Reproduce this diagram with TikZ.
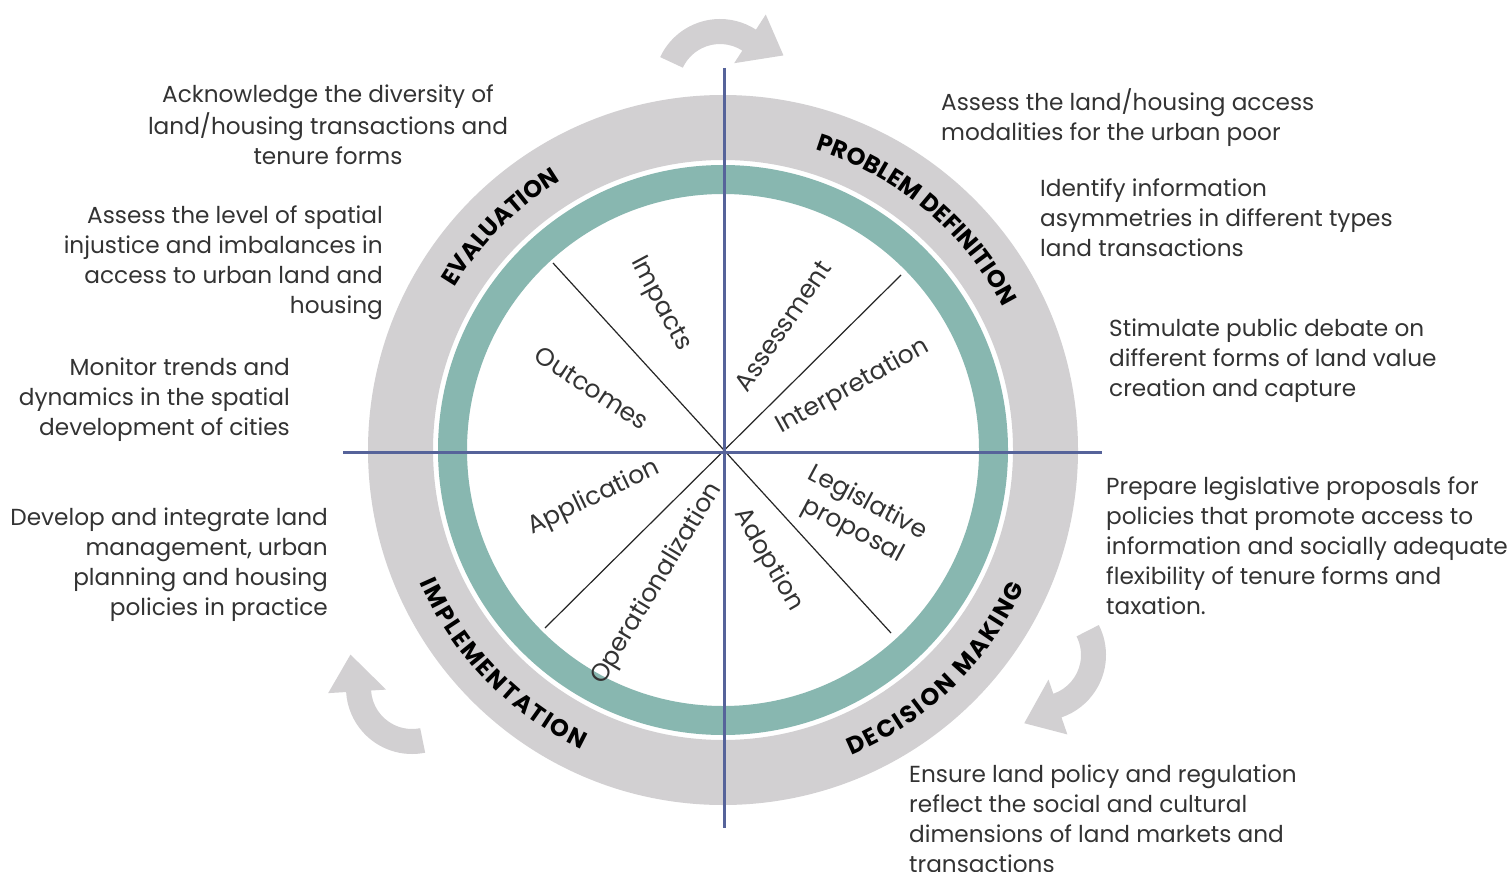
\documentclass[tikz,border=0pt]{standalone}
\usepackage{fontspec}
\setmainfont{Poppins}
\newfontfamily\ringfam{Poppins}
\usetikzlibrary{decorations.text}
\definecolor{ringgray}{HTML}{D2D0D2}
\definecolor{tealring}{HTML}{88B7B0}
\definecolor{axisblue}{HTML}{56639A}
\definecolor{txt}{HTML}{333333}
\newcommand{\ringfont}{\ringfam\fontsize{24}{24}\selectfont\bfseries\color{black}}
\newcommand{\ringfontwide}{\ringfam\fontsize{24}{24}\selectfont\bfseries\color{black}\kern2pt}
\newcommand{\cyclearrow}[3]{%
  \fill[ringgray, shift={(#1,#2)}] (#3:66) arc[start angle=#3, end angle={#3-98}, radius=66]
    -- ({#3-98}:84) -- ({#3-130}:70) -- ({#3-98}:26) -- ({#3-98}:41)
    arc[start angle={#3-98}, end angle=#3, radius=41] -- cycle;}
\begin{document}
\begin{tikzpicture}[x=1pt,y=1pt,
  desc/.style={font=\fontsize{23.2}{30}\selectfont, text=txt, inner sep=0pt},
  lab/.style={font=\fontsize{25}{31}\selectfont, text=txt, inner sep=0pt},
  axisline/.style={draw=axisblue, line width=3pt},
  spoke/.style={draw=black!85, line width=1.2pt},
  ringtext/.style={decorate, decoration={text along path, text align=center, text={#1}}}]
\useasboundingbox[fill=white] (0,0) rectangle (1509,-872);
\coordinate (C) at (723,-450);
% rings
\fill[ringgray, even odd rule] (C) circle[radius=355] (C) circle[radius=290];
\fill[tealring, even odd rule] (C) circle[radius=285] (C) circle[radius=256];
% cycle arrows
\cyclearrow{720}{-85}{155}
\cyclearrow{1040}{-655}{27}
\cyclearrow{412}{-688}{-78.5}
% spokes
\coordinate (d1) at (553,-263);
\coordinate (d2) at (891,-633);
\coordinate (d3) at (901,-275);
\coordinate (d4) at (545,-628);
\draw[spoke] (d1) -- (d2);
\draw[spoke] (d4) -- (d3);
% axes
\coordinate (vt) at (724,-68);
\coordinate (vb) at (724,-828);
\coordinate (hl) at (343,-452);
\coordinate (hr) at (1102,-452);
\draw[axisline] (vt) -- (vb);
\draw[axisline] (hl) -- (hr);
% ring labels
\path[shift={(C)}, ringtext={|\ringfont|PROBLEM DEFINITION}] (95:314) arc[start angle=95, end angle=5, radius=314];
\path[shift={(C)}, ringtext={|\ringfont|EVALUATION}] (175:314) arc[start angle=175, end angle=95, radius=314];
\path[shift={(C)}, ringtext={|\ringfontwide|DECISION MAKING}] (-91:331) arc[start angle=-91, end angle=-1, radius=331];
\path[shift={(C)}, ringtext={|\ringfontwide|IMPLEMENTATION}] (179:331) arc[start angle=179, end angle=269, radius=331];
% inner labels
\node[lab, rotate=-62] (impacts) at (660,-304) {Impacts};
\node[lab, rotate=56] (assess) at (783,-326) {Assessment};
\node[lab, rotate=29] (interp) at (853,-387) {Interpretation};
\node[lab, rotate=-33] (outc) at (592,-388) {Outcomes};
\node[lab, rotate=25.5] (appl) at (594,-498) {Application};
\node[lab, rotate=59] (oper) at (657,-584) {Operationalization};
\node[lab, rotate=-60] (adopt) at (768,-560) {Adoption};
\node[lab, rotate=-28, align=center] (legis) at (860,-517) {Legislative\\proposal};
% descriptions
\node[desc, align=center, anchor=north] (t1) at (328,-81) {\strut Acknowledge the diversity of\\land/housing transactions and\\tenure forms};
\node[desc, align=right, anchor=north east] (t2) at (383,-202) {\strut Assess the level of spatial\\injustice and imbalances in\\access to urban land and\\housing};
\node[desc, align=right, anchor=north east] (t3) at (290,-354) {\strut Monitor trends and\\dynamics in the spatial\\development of cities};
\node[desc, align=right, anchor=north east] (t4) at (328,-504) {\strut Develop and integrate land\\management, urban\\planning and housing\\policies in practice};
\node[desc, align=left, anchor=north west] (t5) at (941,-88) {\strut Assess the land/housing access\\modalities for the urban poor};
\node[desc, align=left, anchor=north west] (t6) at (1040,-175) {\strut Identify information\\asymmetries in different types\\land transactions};
\node[desc, align=left, anchor=north west] (t7) at (1109,-315) {\strut Stimulate public debate on\\different forms of land value\\creation and capture};
\node[desc, align=left, anchor=north west] (t8) at (1106,-473) {\strut Prepare legislative proposals for\\policies that promote access to\\information and socially adequate\\flexibility of tenure forms and\\taxation.};
\node[desc, align=left, anchor=north west] (t9) at (909,-761) {\strut Ensure land policy and regulation\\reflect the social and cultural\\dimensions of land markets and\\transactions};
\end{tikzpicture}
\end{document}
